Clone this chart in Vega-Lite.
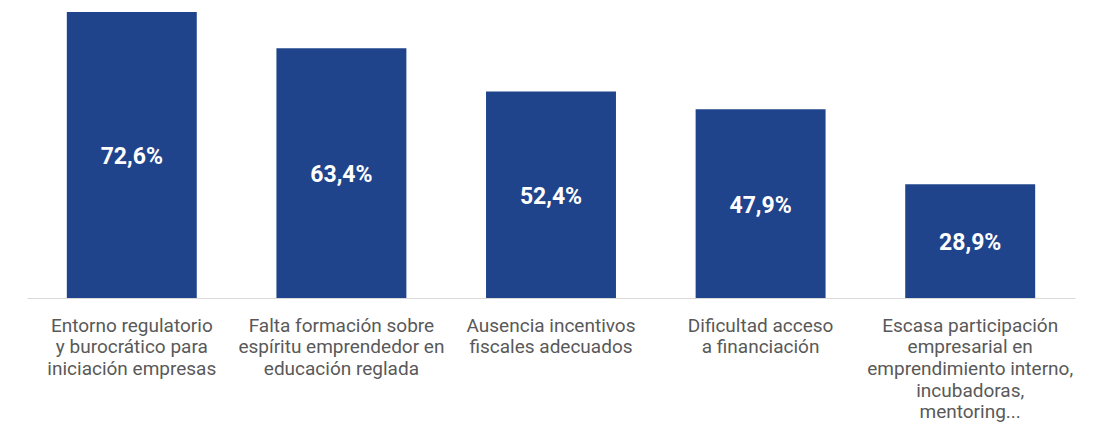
{
  "$schema": "https://vega.github.io/schema/vega-lite/v6.json",
  "autosize": {"type": "none"},
  "width": 1048,
  "height": 286,
  "padding": {"left": 27, "top": 12, "right": 18, "bottom": 145},
  "background": "white",
  "config": {"view": {"stroke": null}, "font": "Roboto"},
  "data": {
    "values": [
      {"cat": "Entorno regulatorio|y burocrático para|iniciación empresas", "value": 72.6, "txt": "72,6%"},
      {"cat": "Falta formación sobre|espíritu emprendedor en|educación reglada", "value": 63.4, "txt": "63,4%"},
      {"cat": "Ausencia incentivos|fiscales adecuados", "value": 52.4, "txt": "52,4%"},
      {"cat": "Dificultad acceso|a financiación", "value": 47.9, "txt": "47,9%"},
      {"cat": "Escasa participación|empresarial en|emprendimiento interno,|incubadoras,|mentoring...", "value": 28.9, "txt": "28,9%"}
    ]
  },
  "encoding": {
    "x": {
      "field": "cat",
      "type": "nominal",
      "sort": null,
      "scale": {"paddingInner": 0.38, "paddingOuter": 0.19},
      "axis": {
        "title": null,
        "labelExpr": "split(datum.label, '|')",
        "labelAngle": 0,
        "labelFont": "Roboto",
        "labelFontSize": 19,
        "labelColor": "#595959",
        "labelLineHeight": 21.7,
        "labelPadding": 18,
        "labelLimit": 300,
        "ticks": false,
        "domainColor": "#d9d9d9",
        "domainWidth": 1
      }
    }
  },
  "layer": [
    {
      "mark": {"type": "bar", "color": "#1F448C"},
      "encoding": {
        "y": {"field": "value", "type": "quantitative", "scale": {"domain": [0, 72.6], "nice": false}, "axis": null}
      }
    },
    {
      "mark": {"type": "text", "color": "white", "font": "Roboto", "fontWeight": "bold", "fontSize": 23, "baseline": "middle", "align": "center", "dy": 2},
      "encoding": {
        "y": {"field": "value", "type": "quantitative", "scale": {"domain": [0, 145.2], "nice": false}, "axis": null},
        "text": {"field": "txt"}
      }
    }
  ],
  "resolve": {"scale": {"y": "independent"}}
}
